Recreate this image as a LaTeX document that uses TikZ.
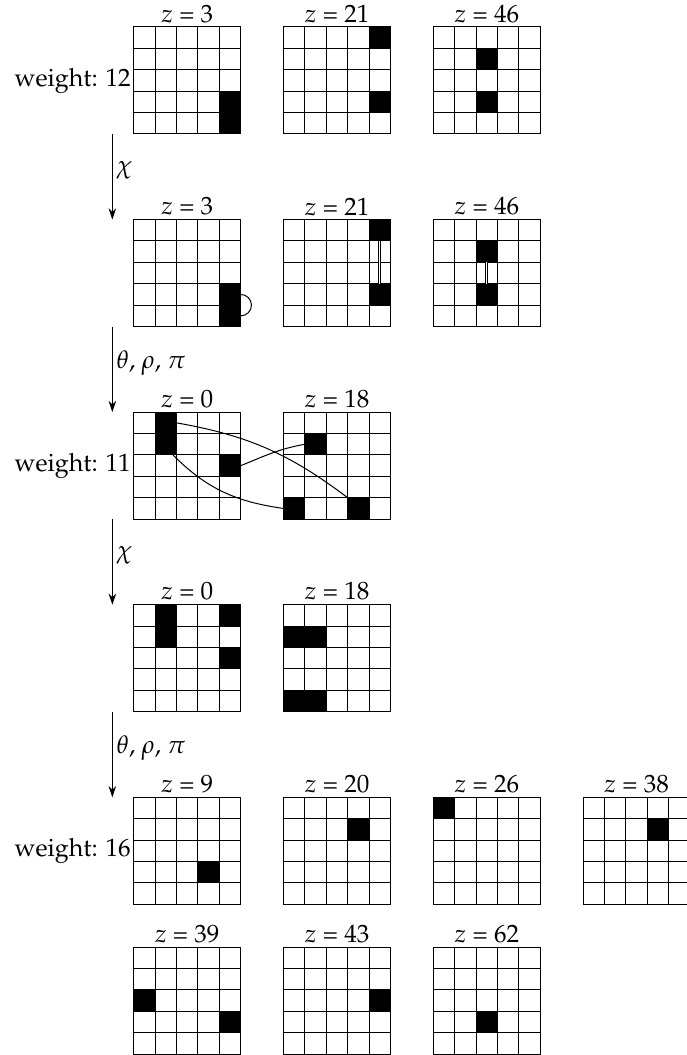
\documentclass[tikz,border=0pt]{standalone}
\usepackage[T1]{fontenc}
\usepackage{mathpazo}
\usetikzlibrary{positioning, arrows.meta}

\begin{document}
\begin{tikzpicture}[x=0.3cm, y=0.3cm]

  \tikzset{
    slice/.style={
        shape=rectangle,
        draw=black,
        minimum size=1.5cm,
        inner sep=0pt,
        outer sep=0pt,
        anchor=north west
      },
    bit/.style={
        fill=black,
        minimum size=0.3cm,
        inner sep=0pt,
        outer sep=0pt,
        anchor=north west
      },
    bar/.style={bit, minimum height=0.6cm},
    zlabel/.style={inner sep=1.5pt, anchor=south},
    weightlabel/.style={inner sep=0pt},
    roundstep/.style={-{Stealth[length=4.5pt,width=3pt]}},
    steplabel/.style={right, inner sep=1.5pt, yshift=2.5pt}
  }

  \useasboundingbox (-6.25,1.26) rectangle (25.81,-48.04);

  % slices: x / y / z / name
  \foreach \x/\y/\z/\n in {0/0/3/s11, 7/0/21/s12, 14/0/46/s13,
                           0/-9/3/s21, 7/-9/21/s22, 14/-9/46/s23,
                           0/-18/0/s31, 7/-18/18/s32,
                           0/-27/0/s41, 7/-27/18/s42,
                           0/-36/9/s51, 7/-36/20/s52, 14/-36/26/s53, 21/-36/38/s54,
                           0/-43/39/s61, 7/-43/43/s62, 14/-43/62/s63} {
    \node[slice] (\n) at (\x,\y) {};
    \draw[step=1] (\n.south west) grid (\n.north east);
    \node[zlabel] (z\n) at (\n.north) {$z$ = \z};
  }

  % active bits
  \node[bar] (b11) at (4,-3) {};
  \node[bit] (b12a) at (11,0) {};
  \node[bit] (b12b) at (11,-3) {};
  \node[bit] (b13a) at (16,-1) {};
  \node[bit] (b13b) at (16,-3) {};

  \node[bar] (b21) at (4,-12) {};
  \node[bit] (b22a) at (11,-9) {};
  \node[bit] (b22b) at (11,-12) {};
  \node[bit] (b23a) at (16,-10) {};
  \node[bit] (b23b) at (16,-12) {};

  \node[bar] (b31a) at (1,-18) {};
  \node[bit] (b31b) at (4,-20) {};
  \node[bit] (b32a) at (8,-19) {};
  \node[bit] (b32b) at (7,-22) {};
  \node[bit] (b32c) at (10,-22) {};

  \node[bar] (b41a) at (1,-27) {};
  \node[bit] (b41b) at (4,-27) {};
  \node[bit] (b41c) at (4,-29) {};
  \node[bit, minimum width=0.6cm] (b42a) at (7,-28) {};
  \node[bit, minimum width=0.6cm] (b42b) at (7,-31) {};

  \node[bit] (b51) at (3,-39) {};
  \node[bit] (b52) at (10,-37) {};
  \node[bit] (b53) at (14,-36) {};
  \node[bit] (b54) at (24,-37) {};

  \node[bit] (b61a) at (0,-45) {};
  \node[bit] (b61b) at (4,-46) {};
  \node[bit] (b62) at (11,-45) {};
  \node[bit] (b63) at (16,-46) {};

  % links between bits
  \draw ([yshift=-0.15cm]b21.north east) arc[start angle=90, end angle=-90, radius=0.15cm];
  \draw[double, double distance=0.5pt] (b22a.south) -- (b22b.north);
  \draw[double, double distance=0.5pt] (b23a.south) -- (b23b.north);

  \draw ([yshift=-0.15cm]b31a.north east) to[out=-10, in=143] (b32c.north west);
  \draw ([xshift=-0.05cm]b31a.south east) to[out=-45, in=172] (b32b.west);
  \draw (b31b.east) to[out=22, in=190] (b32a.west);

  % weights
  \node[weightlabel, left=1pt of s11] (w1) {weight: 12};
  \node[weightlabel, left=1pt of s31] (w3) {weight: 11};
  \node[weightlabel, left=1pt of s51] (w5) {weight: 16};

  % round steps
  \draw[roundstep] ([xshift=-0.3cm]s11.south west) -- node[steplabel] (r1) {$\chi$} ([xshift=-0.3cm]s21.north west);
  \draw[roundstep] ([xshift=-0.3cm]s21.south west) -- node[steplabel] (r2) {$\theta$, $\rho$, $\pi$} ([xshift=-0.3cm]s31.north west);
  \draw[roundstep] ([xshift=-0.3cm]s31.south west) -- node[steplabel] (r3) {$\chi$} ([xshift=-0.3cm]s41.north west);
  \draw[roundstep] ([xshift=-0.3cm]s41.south west) -- node[steplabel] (r4) {$\theta$, $\rho$, $\pi$} ([xshift=-0.3cm]s51.north west);

\end{tikzpicture}
\end{document}
